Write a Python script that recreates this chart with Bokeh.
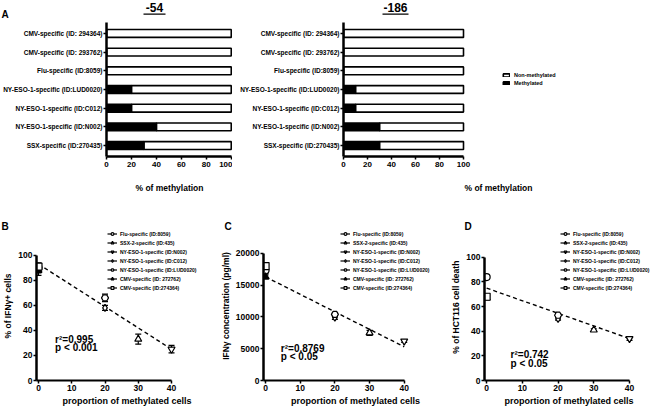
from bokeh.plotting import figure
from bokeh.models import (FactorRange, Range1d, FixedTicker, Label, Legend, LegendItem,
                          ColumnDataSource)
from bokeh.layouts import column, row
from bokeh.embed import file_html
from bokeh.resources import INLINE

# ---------------- data: panel A ----------------
specificities = ["CMV-specific (ID: 294364)", "CMV-specific (ID: 293762)",
                 "Flu-specific (ID:8059)", "NY-ESO-1-specific (ID:LUD0020)",
                 "NY-ESO-1-specific (ID:C012)", "NY-ESO-1-specific (ID:N002)",
                 "SSX-specific (ID:270435)"]
meth_54 = [0, 0, 0, 20, 20, 40, 30]
meth_186 = [0, 0, 0, 10, 10, 30, 30]
pct_ticks = [0, 20, 40, 60, 80, 100]

# ---------------- data: panels B-D ----------------
clones = ["Flu-specific (ID:8059)", "SSX-2-specific (ID:435)", "NY-ESO-1-specific (ID:N002)",
          "NY-ESO-1-specific (ID:C012)", "NY-ESO-1-specific (ID:LUD0020)",
          "CMV-specific (ID: 272762)", "CMV-specific (ID:274364)"]
markers = ["circle", "triangle", "inverted_triangle", "diamond", "hex", "triangle", "square"]
fills = ["white", "white", "white", "white", "white", "black", "white"]
methylated = [0, 30, 40, 20, 20, 0, 0]
ifng_pct = [90, 33, 25, 58, 66, 88, 91]
ifng_pct_err = [4, 4, 3, 2, 3, 4, 2]
ifng_conc = [17300, 7500, 6200, 9900, 10400, 16300, 18000]
ifng_conc_err = [400, 400, 200, 300, 300, 300, 500]
death = [84, 41, 34, 50, 53, 67, 68]
death_err = [1, 1, 1.5, 1, 1, 1, 2]
fit_x = [0, 40]
fit_ifng_pct = [93, 25]
fit_ifng_conc = [16300, 5300]
fit_death = [75, 34]
x_ticks = [0, 10, 20, 30, 40]

SANS = "Liberation Sans"


def style_axes(p, tick_size, label_size):
    p.xgrid.visible = False
    p.ygrid.visible = False
    p.outline_line_color = None
    for ax in p.axis:
        ax.axis_line_width = 2.5
        ax.axis_line_color = "black"
        ax.major_tick_line_width = 1.5
        ax.major_tick_line_color = "black"
        ax.major_tick_out = 3
        ax.major_tick_in = 0
        ax.minor_tick_line_color = None
        ax.major_label_text_font = SANS
        ax.major_label_text_font_style = "bold"
        ax.major_label_text_font_size = tick_size
        ax.major_label_text_color = "black"
        ax.major_label_standoff = 1
        ax.axis_label_text_font = SANS
        ax.axis_label_text_font_style = "bold"
        ax.axis_label_text_font_size = label_size
        ax.axis_label_text_color = "black"


def strip(height, width=653):
    p = figure(width=width, height=height, output_backend="svg", toolbar_location=None,
               x_range=Range1d(0, width), y_range=Range1d(0, height),
               x_axis_type=None, y_axis_type=None, min_border=0)
    p.outline_line_color = None
    return p


def add_text(p, x, y, text, size, align="left", baseline="alphabetic"):
    p.add_layout(Label(x=x, y=y, text=text, text_align=align, text_baseline=baseline,
                       text_font=SANS, text_font_style="bold", text_font_size=size,
                       text_color="black"))


# ---------------- header strip for panel A ----------------
top = strip(20)
add_text(top, 1, 6.5, "A", "10px")
for title, cx, half in [("-54", 154, 11), ("-186", 395, 13)]:
    add_text(top, cx, 13, title, "12px", align="center", baseline="middle")
    top.segment(x0=[cx - half], y0=[6.3], x1=[cx + half], y1=[6.3], line_color="black", line_width=1.3)


def methylation_panel(meth, width, mbl, x_end, legend=False):
    p = figure(width=width, height=175, output_backend="svg", toolbar_location=None,
               y_range=FactorRange(factors=specificities[::-1], range_padding=0.025),
               x_range=Range1d(0, x_end),
               min_border_left=mbl, min_border_right=0, min_border_top=2, min_border_bottom=38)
    src = ColumnDataSource(dict(spec=specificities, meth=meth, full=[100] * len(meth)))
    r_non = p.hbar(y="spec", left="meth", right="full", height=0.42, source=src,
                   fill_color="white", line_color="black", line_width=1.6)
    r_meth = p.hbar(y="spec", left=0, right="meth", height=0.42, source=src,
                    fill_color="black", line_color="black", line_width=1.6)
    style_axes(p, "8px", "8.5px")
    p.yaxis.major_label_text_font_size = "6.5px"
    p.xaxis.ticker = FixedTicker(ticks=pct_ticks)
    p.xaxis.bounds = (0, 100)
    p.xaxis.major_label_standoff = 2
    p.xaxis.axis_label = "% of methylation"
    p.xaxis.axis_label_standoff = 13
    if legend:
        lg = Legend(items=[LegendItem(label="Non-methylated", renderers=[r_non]),
                           LegendItem(label="Methylated", renderers=[r_meth])],
                    location=(159, 70), glyph_width=8, glyph_height=4, label_height=7,
                    label_text_font=SANS, label_text_font_style="bold",
                    label_text_font_size="5.5px", label_text_color="black",
                    spacing=1, padding=0, margin=0,
                    label_standoff=4, border_line_color=None, background_fill_alpha=0)
        p.add_layout(lg)
    return p


# A1: figure x 8..240, frame 109..228 ; A2: figure 240..661, frame 351.., 100 at 471
a1 = methylation_panel(meth_54, 232, 101, 101)
a2 = methylation_panel(meth_186, 421, 111, 100 * (661 - 351) / (471 - 351), legend=True)

# ---------------- header strip for panels B-D ----------------
mid = strip(36)
add_text(mid, 1, 5, "B", "10px")
add_text(mid, 224, 5, "C", "10px")
add_text(mid, 464, 5, "D", "10px")

FRAME_TOP, FRAME_BOTTOM = 231, 381


def correlation_panel(vals, errs, fit, ylabel, yticks, fig_left, width, mbl, axis_top_px, x40_px,
                      stats, stat_xy, legend_vx):
    frame_left = fig_left + mbl
    ppu = (x40_px - frame_left) / 40.6
    x_end = -0.6 + (fig_left + width - frame_left) / ppu
    y_end = yticks[-1] * (FRAME_BOTTOM - FRAME_TOP) / (FRAME_BOTTOM - axis_top_px)
    p = figure(width=width, height=177, output_backend="svg", toolbar_location=None,
               x_range=Range1d(-0.6, x_end), y_range=Range1d(0, y_end),
               min_border_left=mbl, min_border_right=0, min_border_top=0, min_border_bottom=27)
    p.line(fit_x, fit, line_color="black", line_dash="4 3", line_width=1.4)
    items = []
    for i in range(len(clones)):
        x = methylated[i]
        lo, hi = vals[i] - errs[i], vals[i] + errs[i]
        seg = p.segment(x0=[x], y0=[lo], x1=[x], y1=[hi], line_color="black", line_width=1.2)
        p.scatter(x=[x, x], y=[lo, hi], marker="dash", size=6, line_color="black", line_width=1.2)
        sc = p.scatter(x=[x], y=[vals[i]], marker=markers[i], size=7, fill_color=fills[i],
                       line_color="black", line_width=1.2)
        items.append(LegendItem(label=clones[i], renderers=[seg, sc]))
    style_axes(p, "8.5px", "8.5px")
    p.xaxis.axis_line_width = 2
    p.xaxis.ticker = FixedTicker(ticks=x_ticks)
    p.xaxis.bounds = (-0.6, 40)
    p.yaxis.ticker = FixedTicker(ticks=yticks)
    p.yaxis.bounds = (0, yticks[-1])
    p.xaxis.axis_label = "proportion of methylated cells"
    p.xaxis.axis_label_text_font_size = "9px"
    p.xaxis.axis_label_standoff = 2
    p.yaxis.axis_label = ylabel
    p.yaxis.axis_label_standoff = 2
    lg = Legend(items=items, location=(legend_vx, 89), glyph_width=10, glyph_height=7,
                label_height=7, label_text_font=SANS, label_text_font_style="bold",
                label_text_font_size="5px", label_text_color="black",
                spacing=2, padding=0, margin=0,
                label_standoff=3, border_line_color=None, background_fill_alpha=0)
    p.add_layout(lg)
    sx, sy1, sy2 = stat_xy
    for txt, yy in [(stats[0], sy1), (stats[1], sy2)]:
        add_text(p, sx, yy, txt, "10px", baseline="middle")
    return p


b = correlation_panel(ifng_pct, ifng_pct_err, fit_ifng_pct, "% of IFNγ+ cells",
                      [0, 20, 40, 60, 80, 100], 8, 217, 32, 255, 178,
                      ["r²=0.995", "p < 0.001"], (5, 33, 26), 71)
c = correlation_panel(ifng_conc, ifng_conc_err, fit_ifng_conc, "IFNγ concentration (pg/ml)",
                      [0, 5000, 10000, 15000, 20000], 225, 230, 43, 253, 411,
                      ["r²=0.8769", "p < 0.05"], (4.4, 5100, 3700), 77)
d = correlation_panel(death, death_err, fit_death, "% of  HCT116 cell death",
                      [0, 20, 40, 60, 80, 100], 455, 206, 37, 257, 637,
                      ["r²=0.742", "p < 0.05"], (6.7, 21, 14), 76)

layout = column(top, row(a1, a2), mid, row(b, c, d))

with open("out.html", "w") as f:
    f.write(file_html(layout, INLINE))
